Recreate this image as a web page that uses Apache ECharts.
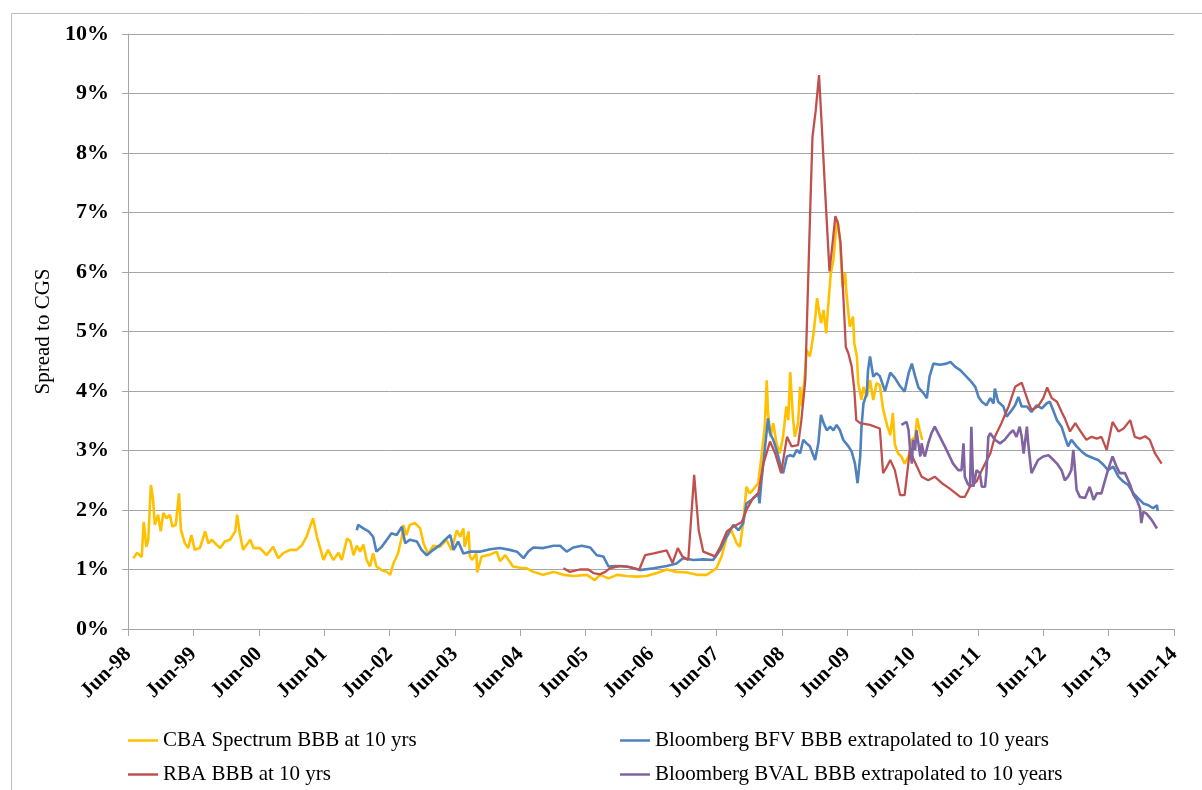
<!DOCTYPE html>
<html>
<head>
<meta charset="utf-8">
<script src="https://cdn.jsdelivr.net/npm/echarts@6/dist/echarts.min.js"></script>
<style>
html,body{margin:0;padding:0;background:#fff;}
#chart{width:1202px;height:790px;}
</style>
</head>
<body>
<div id="chart"></div>
<script>
// x values: years since Jun-98; y values: spread to CGS in %
const tickLabels = ['Jun-98','Jun-99','Jun-00','Jun-01','Jun-02','Jun-03','Jun-04','Jun-05','Jun-06','Jun-07','Jun-08','Jun-09','Jun-10','Jun-11','Jun-12','Jun-13','Jun-14'];
const seriesNames = ['CBA Spectrum BBB at 10 yrs','Bloomberg BFV BBB extrapolated to 10 years','RBA BBB at 10 yrs','Bloomberg BVAL BBB extrapolated to 10 years'];

const cbaSpectrum = [
[0.08,1.19],[0.14,1.28],[0.21,1.21],[0.24,1.80],[0.28,1.38],[0.31,1.50],[0.35,2.42],[0.38,2.22],[0.41,1.75],[0.46,1.92],
[0.50,1.64],[0.54,1.95],[0.59,1.86],[0.64,1.92],[0.68,1.72],[0.73,1.75],[0.78,2.28],[0.81,1.66],[0.87,1.44],[0.92,1.36],
[0.97,1.58],[1.02,1.33],[1.10,1.36],[1.18,1.64],[1.23,1.44],[1.28,1.50],[1.36,1.41],[1.41,1.36],[1.48,1.47],[1.56,1.50],
[1.64,1.64],[1.67,1.92],[1.71,1.61],[1.76,1.33],[1.87,1.50],[1.92,1.36],[2.02,1.36],[2.12,1.24],[2.22,1.38],[2.30,1.19],
[2.38,1.28],[2.48,1.33],[2.58,1.33],[2.66,1.41],[2.73,1.55],[2.83,1.86],[2.89,1.55],[2.94,1.36],[2.99,1.16],[3.06,1.33],
[3.14,1.16],[3.22,1.28],[3.27,1.16],[3.35,1.52],[3.40,1.48],[3.45,1.24],[3.50,1.40],[3.55,1.30],[3.60,1.42],[3.65,1.16],
[3.70,1.05],[3.75,1.27],[3.80,1.05],[3.88,0.99],[3.96,0.96],[4.01,0.91],[4.06,1.10],[4.13,1.27],[4.19,1.55],[4.21,1.75],
[4.26,1.58],[4.31,1.75],[4.39,1.78],[4.47,1.69],[4.52,1.44],[4.59,1.26],[4.67,1.40],[4.77,1.38],[4.87,1.50],[4.95,1.33],
[5.03,1.66],[5.08,1.55],[5.13,1.69],[5.15,1.38],[5.21,1.64],[5.23,1.22],[5.26,1.16],[5.33,1.27],[5.34,0.95],[5.41,1.22],
[5.54,1.25],[5.64,1.30],[5.69,1.14],[5.77,1.24],[5.89,1.05],[6.00,1.03],[6.10,1.02],[6.20,0.96],[6.35,0.91],[6.51,0.96],
[6.66,0.91],[6.81,0.89],[7.02,0.91],[7.14,0.82],[7.22,0.91],[7.35,0.85],[7.48,0.91],[7.63,0.89],[7.78,0.88],[7.93,0.89],
[8.09,0.94],[8.24,1.00],[8.39,0.96],[8.55,0.95],[8.70,0.91],[8.85,0.91],[9.00,1.02],[9.08,1.22],[9.16,1.55],[9.23,1.66],
[9.31,1.44],[9.36,1.38],[9.41,1.78],[9.46,2.39],[9.51,2.28],[9.56,2.34],[9.64,2.45],[9.69,2.90],[9.74,3.40],[9.77,4.18],
[9.79,3.63],[9.83,3.23],[9.87,3.46],[9.92,3.12],[9.97,2.95],[10.02,3.23],[10.07,3.74],[10.10,3.51],[10.13,4.32],[10.17,3.57],
[10.20,3.23],[10.25,3.46],[10.28,4.07],[10.31,3.74],[10.36,4.35],[10.38,4.69],[10.43,4.58],[10.48,4.91],[10.52,5.31],[10.54,5.56],
[10.57,5.53],[10.60,5.14],[10.64,5.36],[10.68,4.97],[10.71,5.42],[10.75,5.98],[10.79,6.20],[10.83,6.71],[10.85,6.87],[10.89,6.54],
[10.93,5.75],[10.97,5.98],[10.99,5.64],[11.04,5.08],[11.09,5.25],[11.11,4.80],[11.15,4.58],[11.17,4.13],[11.22,3.85],[11.25,4.07],
[11.30,3.90],[11.35,4.18],[11.40,3.85],[11.45,4.13],[11.50,4.10],[11.55,3.70],[11.61,3.43],[11.66,3.26],[11.70,3.63],[11.73,3.10],
[11.78,2.95],[11.83,2.90],[11.88,2.78],[11.94,2.90],[11.99,3.18],[12.04,3.23],[12.07,3.54],[12.11,3.34],[12.15,3.18]
];

const bfvBloomberg = [
[3.50,1.66],[3.52,1.75],[3.60,1.69],[3.68,1.64],[3.75,1.55],[3.80,1.30],[3.88,1.38],[3.96,1.50],[4.03,1.61],[4.11,1.58],
[4.19,1.72],[4.24,1.44],[4.31,1.50],[4.42,1.47],[4.49,1.33],[4.57,1.24],[4.67,1.33],[4.77,1.41],[4.85,1.50],[4.93,1.58],
[4.98,1.33],[5.05,1.47],[5.13,1.27],[5.23,1.30],[5.38,1.30],[5.54,1.34],[5.69,1.36],[5.84,1.33],[5.95,1.30],[6.05,1.19],
[6.12,1.30],[6.20,1.37],[6.35,1.36],[6.51,1.40],[6.61,1.40],[6.71,1.30],[6.81,1.37],[6.94,1.40],[7.07,1.37],[7.17,1.24],
[7.27,1.22],[7.35,1.05],[7.45,1.06],[7.63,1.05],[7.83,0.99],[8.04,1.02],[8.24,1.06],[8.39,1.10],[8.49,1.19],[8.65,1.16],
[8.80,1.17],[8.95,1.16],[9.06,1.33],[9.13,1.50],[9.21,1.66],[9.26,1.75],[9.34,1.66],[9.41,1.78],[9.46,2.11],[9.54,2.17],
[9.59,2.22],[9.64,2.28],[9.66,2.11],[9.69,2.50],[9.74,3.01],[9.79,3.54],[9.82,3.29],[9.87,3.18],[9.92,3.01],[10.00,2.67],
[10.02,2.62],[10.08,2.90],[10.13,2.92],[10.18,2.90],[10.23,3.01],[10.28,2.95],[10.33,3.18],[10.38,3.12],[10.43,3.07],[10.51,2.84],
[10.56,3.12],[10.60,3.60],[10.64,3.46],[10.69,3.34],[10.74,3.40],[10.79,3.34],[10.84,3.43],[10.89,3.34],[10.94,3.18],[11.02,3.07],
[11.07,2.98],[11.12,2.78],[11.16,2.45],[11.20,2.90],[11.22,3.40],[11.25,3.79],[11.30,3.96],[11.32,4.35],[11.35,4.58],[11.40,4.24],
[11.45,4.30],[11.50,4.25],[11.58,4.00],[11.66,4.31],[11.73,4.22],[11.81,4.08],[11.88,3.99],[11.94,4.30],[11.99,4.46],[12.04,4.25],
[12.09,4.06],[12.17,3.96],[12.22,3.88],[12.26,4.24],[12.32,4.46],[12.42,4.44],[12.52,4.46],[12.58,4.49],[12.65,4.41],[12.73,4.35],
[12.80,4.27],[12.88,4.18],[12.96,4.07],[13.01,3.90],[13.06,3.82],[13.13,3.76],[13.19,3.88],[13.24,3.79],[13.26,4.04],[13.31,3.82],
[13.39,3.74],[13.44,3.57],[13.52,3.68],[13.57,3.76],[13.62,3.90],[13.67,3.74],[13.75,3.74],[13.82,3.65],[13.90,3.76],[13.98,3.71],
[14.05,3.79],[14.10,3.82],[14.15,3.68],[14.21,3.51],[14.28,3.40],[14.33,3.23],[14.38,3.07],[14.43,3.18],[14.51,3.07],[14.59,2.98],
[14.66,2.92],[14.77,2.87],[14.84,2.84],[14.92,2.76],[14.99,2.67],[15.07,2.73],[15.15,2.56],[15.22,2.48],[15.30,2.42],[15.38,2.28],
[15.45,2.20],[15.53,2.11],[15.61,2.08],[15.68,2.03],[15.74,2.08],[15.75,1.98]
];

const rbaBBB = [
[6.66,1.02],[6.76,0.96],[6.91,1.00],[7.04,1.00],[7.12,0.94],[7.22,0.92],[7.30,0.96],[7.37,1.02],[7.53,1.06],[7.68,1.04],
[7.82,1.00],[7.91,1.24],[8.04,1.27],[8.24,1.32],[8.33,1.11],[8.41,1.36],[8.48,1.22],[8.57,1.16],[8.66,2.59],[8.73,1.66],
[8.80,1.30],[8.98,1.22],[9.06,1.38],[9.16,1.64],[9.26,1.72],[9.39,1.80],[9.46,2.00],[9.56,2.20],[9.64,2.28],[9.72,2.78],
[9.82,3.15],[9.90,2.95],[9.99,2.62],[10.08,3.23],[10.15,3.07],[10.25,3.09],[10.30,3.51],[10.36,4.18],[10.41,6.09],[10.44,7.21],
[10.47,8.27],[10.52,8.72],[10.57,9.31],[10.61,8.50],[10.66,7.43],[10.73,6.01],[10.78,6.51],[10.82,6.94],[10.86,6.82],[10.90,6.48],
[10.94,5.64],[10.98,4.74],[11.02,4.63],[11.07,4.41],[11.11,4.02],[11.14,3.51],[11.20,3.46],[11.35,3.43],[11.50,3.37],[11.55,2.62],
[11.61,2.73],[11.66,2.84],[11.73,2.67],[11.81,2.25],[11.88,2.25],[11.96,3.01],[12.01,2.87],[12.14,2.56],[12.24,2.50],[12.34,2.56],
[12.45,2.45],[12.57,2.36],[12.73,2.22],[12.80,2.22],[12.88,2.39],[12.98,2.48],[13.06,2.67],[13.19,2.95],[13.26,3.23],[13.36,3.46],
[13.47,3.74],[13.57,4.07],[13.67,4.14],[13.77,3.82],[13.82,3.68],[13.92,3.74],[14.00,3.88],[14.06,4.06],[14.13,3.88],[14.21,3.82],
[14.28,3.65],[14.33,3.54],[14.41,3.32],[14.49,3.46],[14.56,3.34],[14.66,3.18],[14.74,3.23],[14.82,3.20],[14.89,3.23],[14.97,3.01],
[15.06,3.48],[15.15,3.32],[15.23,3.37],[15.33,3.51],[15.40,3.23],[15.48,3.20],[15.56,3.24],[15.63,3.18],[15.71,2.95],[15.81,2.78]
];

const bvalBloomberg = [
[11.83,3.43],[11.91,3.48],[11.94,3.34],[11.96,3.06],[11.99,2.78],[12.01,3.18],[12.04,3.01],[12.06,3.34],[12.09,3.12],[12.12,2.90],
[12.14,3.12],[12.17,2.95],[12.19,2.90],[12.24,3.12],[12.29,3.29],[12.34,3.40],[12.42,3.23],[12.52,3.01],[12.62,2.78],[12.70,2.67],
[12.75,2.67],[12.78,3.12],[12.80,2.56],[12.84,2.45],[12.88,2.39],[12.90,3.40],[12.93,2.39],[12.98,2.67],[13.03,2.62],[13.06,2.39],
[13.11,2.39],[13.13,2.62],[13.16,3.23],[13.19,3.29],[13.26,3.18],[13.34,3.12],[13.41,3.18],[13.49,3.29],[13.54,3.34],[13.59,3.23],
[13.64,3.40],[13.67,3.23],[13.70,2.95],[13.75,3.40],[13.77,3.12],[13.82,2.62],[13.87,2.73],[13.92,2.84],[14.00,2.90],[14.08,2.92],
[14.13,2.87],[14.21,2.78],[14.28,2.67],[14.33,2.50],[14.38,2.56],[14.43,2.67],[14.46,3.01],[14.49,2.62],[14.51,2.34],[14.56,2.22],
[14.64,2.20],[14.71,2.39],[14.77,2.17],[14.82,2.28],[14.89,2.28],[14.94,2.48],[14.99,2.67],[15.06,2.90],[15.12,2.73],[15.17,2.62],
[15.25,2.62],[15.33,2.42],[15.38,2.25],[15.43,2.17],[15.48,2.03],[15.50,1.78],[15.53,1.97],[15.58,1.94],[15.66,1.83],[15.74,1.69]
];

const colors = ['#FFC000','#4F81BD','#C0504D','#8064A2'];
const serif = 'Liberation Serif, Times New Roman, serif';

function mkLegend(i, left, top) {
  return {
    data: [seriesNames[i]], left: left, top: top, orient: 'horizontal',
    icon: 'rect', itemWidth: 30, itemHeight: 2.5, padding: 0,
    textStyle: { fontFamily: serif, fontSize: 21, color: '#000' },
    selectedMode: false
  };
}

const chart = echarts.init(document.getElementById('chart'), null, { renderer: 'canvas' });
chart.setOption({
  backgroundColor: '#fff',
  animation: false,
  color: colors,
  graphic: [{
    type: 'rect', silent: true,
    shape: { x: 11.5, y: 13.5, width: 1400, height: 1000 },
    style: { fill: null, stroke: '#BFBFBF', lineWidth: 1 }
  }],
  legend: [
    mkLegend(0, 128, 730),
    mkLegend(1, 620, 730),
    mkLegend(2, 128, 764),
    mkLegend(3, 620, 764)
  ],
  grid: { left: 128, right: 28, top: 34, bottom: 161, containLabel: false },
  xAxis: {
    type: 'value', min: 0, max: 16, interval: 1,
    axisLine: { lineStyle: { color: '#A6A6A6', width: 1 } },
    axisTick: { show: true, length: 7, lineStyle: { color: '#A6A6A6' } },
    splitLine: { show: false },
    axisLabel: {
      rotate: 45, margin: 22,
      fontFamily: serif, fontSize: 21, fontWeight: 'bold', color: '#000',
      formatter: function (v) { return tickLabels[Math.round(v)] || ''; }
    }
  },
  yAxis: {
    type: 'value', min: 0, max: 10, interval: 1,
    name: 'Spread to CGS', nameLocation: 'middle', nameGap: 74,
    nameTextStyle: { fontFamily: serif, fontSize: 21, color: '#000' },
    axisLine: { show: true, lineStyle: { color: '#A6A6A6', width: 1 } },
    axisTick: { show: true, length: 6, lineStyle: { color: '#A6A6A6' } },
    splitLine: { show: true, lineStyle: { color: '#A6A6A6', width: 1 } },
    axisLabel: {
      margin: 19, fontFamily: serif, fontSize: 22, fontWeight: 'bold', color: '#000',
      formatter: '{value}%'
    }
  },
  series: [
    { name: seriesNames[0], type: 'line', data: cbaSpectrum, showSymbol: false, symbol: 'none', lineStyle: { width: 2.6, color: colors[0] }, itemStyle: { color: colors[0] } },
    { name: seriesNames[1], type: 'line', data: bfvBloomberg, showSymbol: false, symbol: 'none', lineStyle: { width: 2.6, color: colors[1] }, itemStyle: { color: colors[1] } },
    { name: seriesNames[2], type: 'line', data: rbaBBB, showSymbol: false, symbol: 'none', lineStyle: { width: 2.3, color: colors[2] }, itemStyle: { color: colors[2] } },
    { name: seriesNames[3], type: 'line', data: bvalBloomberg, showSymbol: false, symbol: 'none', lineStyle: { width: 2.6, color: colors[3] }, itemStyle: { color: colors[3] } }
  ]
});
</script>
</body>
</html>
